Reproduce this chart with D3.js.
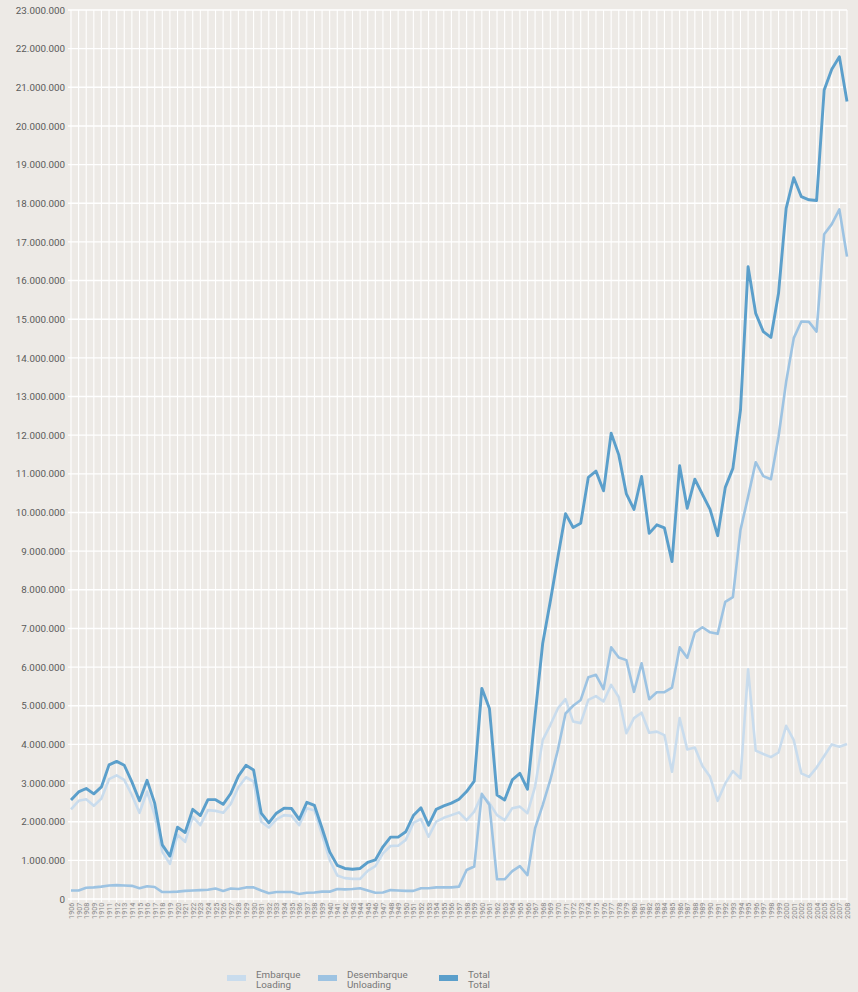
<!DOCTYPE html>
<html>
<head>
<meta charset="utf-8">
<script src="https://cdn.jsdelivr.net/npm/d3@7"></script>
<style>
  html, body { margin: 0; padding: 0; background: #edeae6; }
  svg { display: block; }
  text { font-family: Roboto, "Liberation Sans", sans-serif; }
</style>
</head>
<body>
<svg id="chart" width="858" height="992"></svg>
<script>
// ---- DATA (values in millions) ----
const years = d3.range(1906, 2009);

const loading = [
  2.32, 2.54, 2.58, 2.41, 2.60, 3.10, 3.20, 3.08, 2.69, 2.23,
  2.78, 2.17, 1.22, 0.91, 1.66, 1.48, 2.13, 1.91, 2.30, 2.28,
  2.23, 2.46, 2.89, 3.15, 3.04, 2.00, 1.85, 2.06, 2.17, 2.15,
  1.91, 2.35, 2.29, 1.66, 1.01, 0.61, 0.54, 0.52, 0.52, 0.73,
  0.85, 1.18, 1.37, 1.38, 1.53, 1.97, 2.07, 1.61, 2.00, 2.10,
  2.17, 2.24, 2.04, 2.26, 2.69, 2.48, 2.17, 2.04, 2.35, 2.39,
  2.22, 2.91, 4.11, 4.50, 4.93, 5.17, 4.59, 4.55, 5.15, 5.25,
  5.11, 5.54, 5.22, 4.29, 4.68, 4.82, 4.30, 4.33, 4.24, 3.29,
  4.68, 3.87, 3.92, 3.44, 3.16, 2.54, 2.99, 3.31, 3.12, 5.94,
  3.84, 3.75, 3.67, 3.79, 4.48, 4.11, 3.25, 3.16, 3.40, 3.70,
  4.00, 3.94, 4.01
];

const unloading = [
  0.22, 0.22, 0.29, 0.30, 0.32, 0.35, 0.36, 0.35, 0.34, 0.28,
  0.33, 0.31, 0.18, 0.18, 0.19, 0.21, 0.22, 0.23, 0.24, 0.27,
  0.21, 0.27, 0.26, 0.30, 0.30, 0.22, 0.15, 0.18, 0.18, 0.18,
  0.13, 0.16, 0.17, 0.19, 0.19, 0.26, 0.25, 0.26, 0.28, 0.22,
  0.16, 0.17, 0.23, 0.22, 0.21, 0.21, 0.28, 0.28, 0.30, 0.30,
  0.30, 0.32, 0.75, 0.84, 2.72, 2.43, 0.51, 0.51, 0.72, 0.85,
  0.62, 1.83, 2.43, 3.08, 3.86, 4.80, 5.00, 5.15, 5.74, 5.80,
  5.43, 6.51, 6.25, 6.18, 5.36, 6.10, 5.17, 5.35, 5.35, 5.47,
  6.51, 6.24, 6.90, 7.03, 6.90, 6.86, 7.69, 7.81, 9.55, 10.41,
  11.30, 10.94, 10.86, 11.96, 13.38, 14.51, 14.94, 14.93, 14.68, 17.20,
  17.46, 17.84, 16.62
];

const total = [
  2.56, 2.77, 2.86, 2.72, 2.90, 3.47, 3.56, 3.46, 3.03, 2.54,
  3.07, 2.48, 1.40, 1.11, 1.86, 1.72, 2.32, 2.16, 2.57, 2.57,
  2.45, 2.73, 3.18, 3.46, 3.34, 2.22, 1.97, 2.22, 2.35, 2.34,
  2.06, 2.50, 2.42, 1.83, 1.22, 0.87, 0.79, 0.77, 0.79, 0.95,
  1.01, 1.35, 1.60, 1.60, 1.74, 2.16, 2.36, 1.91, 2.32, 2.41,
  2.48, 2.58, 2.78, 3.05, 5.45, 4.93, 2.69, 2.56, 3.08, 3.25,
  2.84, 4.75, 6.61, 7.70, 8.85, 9.97, 9.61, 9.72, 10.91, 11.07,
  10.56, 12.05, 11.49, 10.48, 10.08, 10.93, 9.46, 9.68, 9.60, 8.73,
  11.21, 10.11, 10.86, 10.47, 10.08, 9.40, 10.65, 11.14, 12.65, 16.36,
  15.15, 14.68, 14.53, 15.67, 17.87, 18.66, 18.17, 18.09, 18.07, 20.93,
  21.47, 21.79, 20.63
];

const yTicks = d3.range(0, 24, 1); // millions
const seriesNames = [
  { es: "Embarque", en: "Loading" },
  { es: "Desembarque", en: "Unloading" },
  { es: "Total", en: "Total" }
];
const colors = ["#c9dced", "#9dc3e2", "#5b9fcb"];

// ---- CHART ----
(function () {
const svg = d3.select("#chart");
const mLeft = 71, mRight = 847, mTop = 10, mBottom = 899;

const x = d3.scalePoint().domain(years).range([mLeft, mRight]);
const y = d3.scaleLinear().domain([0, 23]).range([mBottom, mTop]);

const loc = d3.formatLocale({ decimal: ",", thousands: ".", grouping: [3], currency: ["", ""] });
const fmt = loc.format(",.0f");

// grid: vertical lines for each year
svg.append("g").selectAll("line").data(years).join("line")
  .attr("x1", d => x(d)).attr("x2", d => x(d))
  .attr("y1", mTop).attr("y2", mBottom + 3)
  .attr("stroke", "#ffffff").attr("stroke-width", 1.1);

// grid: horizontal lines
svg.append("g").selectAll("line").data(yTicks).join("line")
  .attr("x1", mLeft - 3).attr("x2", mRight)
  .attr("y1", d => y(d)).attr("y2", d => y(d))
  .attr("stroke", "#ffffff").attr("stroke-width", 1.4);

// y axis labels
const yAxis = d3.axisLeft(y).tickValues(yTicks).tickSize(0).tickPadding(0)
  .tickFormat(d => fmt(d * 1e6));
const ga = svg.append("g").attr("transform", `translate(${mLeft - 6},0)`).call(yAxis);
ga.select(".domain").remove();
ga.selectAll("text").attr("fill", "#5a5a5a").attr("font-size", "9.8px")
  .style("font-family", "Roboto, 'Liberation Sans', sans-serif");

// x axis labels
const xAxis = d3.axisBottom(x).tickSize(0).tickPadding(0).tickFormat(d => String(d));
const gx = svg.append("g").attr("transform", `translate(0,${mBottom + 3})`).call(xAxis);
gx.select(".domain").remove();
gx.selectAll("text")
  .attr("fill", "#888").attr("font-size", "7.2px")
  .style("font-family", "Roboto, 'Liberation Sans', sans-serif")
  .attr("text-anchor", "end")
  .attr("transform", "rotate(-90)")
  .attr("x", 0).attr("y", 0).attr("dy", "0.35em")
  .attr("dx", "-0.1em");

// lines
const widths = [2.6, 2.6, 2.9];
const line = d3.line().x((d, i) => x(years[i])).y(d => y(d));
[loading, unloading, total].forEach((s, k) => {
  svg.append("path").datum(s)
    .attr("fill", "none")
    .attr("stroke", colors[k])
    .attr("stroke-width", widths[k])
    .attr("stroke-linejoin", "round")
    .attr("d", line);
});

// legend
const legX = [227, 318, 439];
const lg = svg.append("g");
seriesNames.forEach((s, k) => {
  const g = lg.append("g").attr("transform", `translate(${legX[k]},0)`);
  g.append("rect").attr("x", 0).attr("y", 975).attr("width", 19).attr("height", 6).attr("fill", colors[k]);
  g.append("text").attr("x", 29).attr("y", 978).text(s.es)
    .attr("fill", "#777").attr("font-size", "9.8px");
  g.append("text").attr("x", 29).attr("y", 988).text(s.en)
    .attr("fill", "#777").attr("font-size", "9.8px");
});
})();
</script>
</body>
</html>
